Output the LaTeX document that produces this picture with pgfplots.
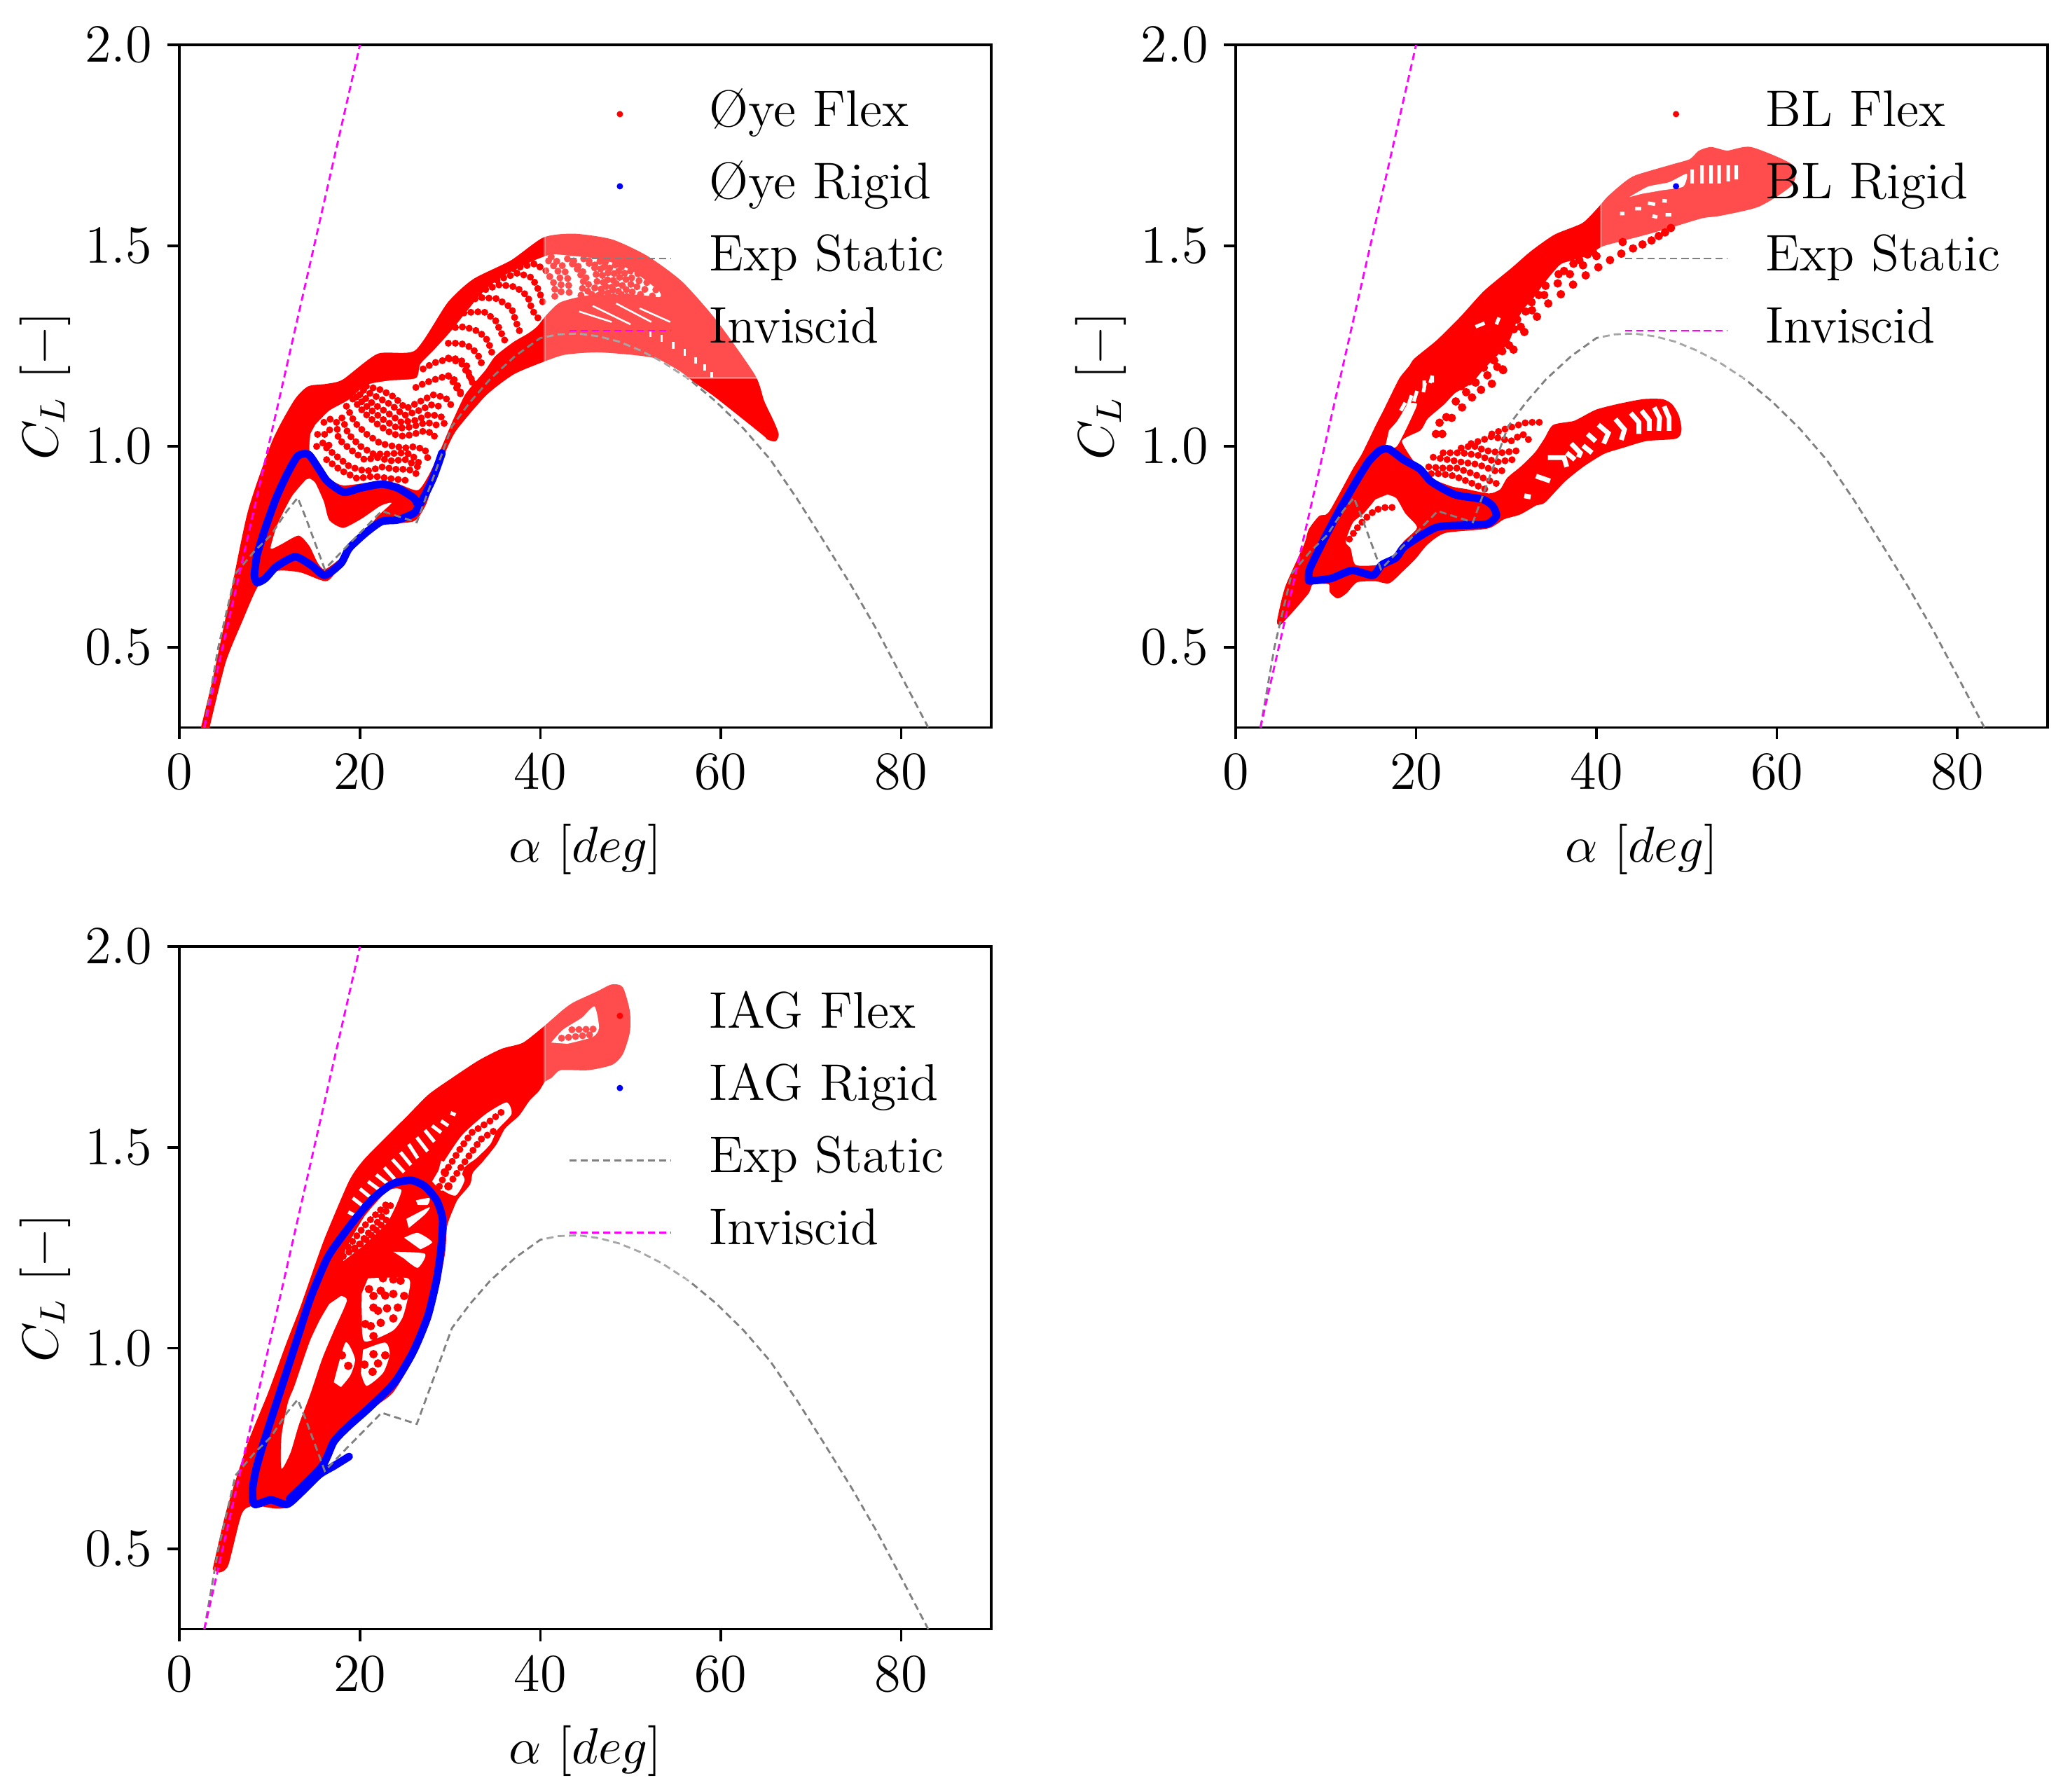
\documentclass[border=0pt]{standalone}
\usepackage{fix-cm}
\usepackage{pgfplots}
\usepackage{pgfplotstable}
\pgfplotsset{compat=1.18}
\definecolor{invcol}{rgb}{1,0,1}
\definecolor{expcol}{rgb}{0.5,0.5,0.5}
\definecolor{flexcol}{rgb}{1,0,0}
\definecolor{rigidcol}{rgb}{0,0,1}

% static polar and inviscid line, the same in all three panels
\pgfplotstableread{
2.75 0.30
4.3 0.50
6.2 0.683
8.3 0.739
10.1 0.778
11.9 0.839
13.1 0.872
14.0 0.822
16.1 0.694
18.5 0.75
22.4 0.839
26.3 0.811
28.4 0.939
30.2 1.05
32.2 1.11
34.4 1.167
37.2 1.225
40.0 1.27
42.0 1.279
44.2 1.281
46.5 1.274
48.7 1.261
51.0 1.24
53.5 1.211
56.5 1.167
59.5 1.111
62.5 1.045
65.5 0.967
68.5 0.868
71.5 0.761
74.5 0.652
77.4 0.539
80.2 0.42
83.0 0.30
}\expstatic
\pgfplotstableread{
2.75 0.30
20.0 2.00
}\inviscid
\pgfplotstableread{
40.5 1.17
86.5 1.17
86.5 1.97
40.5 1.97
}\legendframe

\pgfplotsset{
  panel/.style={
    scale only axis, width=184.5pt, height=155.1pt,
    xmin=0, xmax=90, ymin=0.3, ymax=2.0,
    xtick={0,20,40,60,80}, ytick={0.5,1,1.5,2},
    yticklabel style={/pgf/number format/fixed,/pgf/number format/fixed zerofill,/pgf/number format/precision=1},
    tick align=outside, xtick pos=bottom, ytick pos=left,
    major tick length=2.7pt,
    tick style={black,line width=0.6pt},
    axis line style={line width=0.6pt},
    tick label style={font=\fontsize{12.2}{14}\selectfont},
    label style={font=\fontsize{11.5}{14}\selectfont},
    xlabel={$\alpha\ [deg]$}, ylabel={$C_L\ [-]$},
    xlabel style={yshift=-1pt},
    ylabel style={yshift=-3.5pt},
    legend style={draw=none, fill=none, at={(0.4615,0.945)}, anchor=north west,
      font=\fontsize{11.7}{14}\selectfont, row sep=6.4pt, column sep=8.6pt,
      nodes={inner sep=0pt, text height=7.8pt, text depth=2.2pt},
      cells={anchor=west}},
    legend cell align=left,
  },
  solid/.style={fill=flexcol, draw=flexcol, line width=0.5pt, line join=round, smooth, tension=0.4, forget plot},
  hole/.style={fill=white, draw=none, smooth, tension=0.4, forget plot},
  dots/.style={flexcol, line cap=round, line width=1.6pt, dash pattern=on 0pt off 1.6pt,
    unbounded coords=jump, forget plot, no markers},
  spots/.style={only marks, mark=*, mark size=0.75pt, flexcol, forget plot},
  slits/.style={white, line width=0.8pt, unbounded coords=jump, forget plot, no markers},
  rigid/.style={rigidcol, line width=1.75pt, line join=round, line cap=round, smooth, tension=0.4, forget plot, no markers},
  exp/.style={expcol, line width=0.45pt, dash pattern=on 1.6pt off 0.95pt, forget plot, no markers},
  inv/.style={invcol, line width=0.45pt, dash pattern=on 1.6pt off 0.95pt, forget plot, no markers},
  frame/.style={fill=white, fill opacity=0.3, draw=white, draw opacity=0.3, line width=0.5pt, forget plot},
  keydot/.style={legend image code/.code={\path[draw=none,fill=none] (0,0) -- (23pt,0); \fill[#1,draw=none] (11.5pt,0) circle (0.72pt);}},
  keyline/.style={legend image code/.code={\draw[#1, line width=0.45pt, dash pattern=on 1.6pt off 0.95pt] (0,0) -- (23pt,0);}},
}
\newcommand{\shared}{
  \addplot[exp] table {\expstatic};
  \addplot[inv] table {\inviscid};
  \addplot[frame] table {\legendframe} --cycle;
}
\newcommand{\keys}[1]{
  \addlegendimage{keydot=flexcol}\addlegendentry{#1 Flex}
  \addlegendimage{keydot=rigidcol}\addlegendentry{#1 Rigid}
  \addlegendimage{keyline=expcol}\addlegendentry{Exp Static}
  \addlegendimage{keyline=invcol}\addlegendentry{Inviscid}
}

\begin{document}
\begin{tikzpicture}
\useasboundingbox (-40.8pt,-241.8pt) rectangle (429.6pt,165.3pt);

% ------ Oye
\begin{axis}[panel, at={(0pt,0pt)}]
\addplot[solid] coordinates {(2.5,.30)(3.8,.421)(5.6,.613)(7.7,.838)(10.4,1.013)(12.8,1.113)(14.3,1.147)(16.3,1.153)(18.15,1.164)(22.0,1.228)(26.2,1.237)(29.8,1.356)(32.6,1.414)(36.8,1.461)(40.4,1.518)(43.75,1.527)(47.9,1.513)(51.8,1.472)(55.65,1.408)(59.5,1.310)(63.7,1.176)(64.7,1.112)(65.8,1.06)(66.3,1.03)(66,1.015)(65.2,1.02)(64.7,1.031)(59.5,1.124)(57,1.164)(55.65,1.188)(53.1,1.22)(50.5,1.23)(46.3,1.237)(42.7,1.231)(40.4,1.214)(37,1.182)(33.9,1.129)(30.6,1.042)(29.3,.984)(28,.909)(27.2,.856)(25.9,.816)(22,.804)(18.9,.74)(17.4,.694)(16.2,.667)(13.4,.689)(10.7,.692)(8.6,.653)(6.8,.563)(5,.463)(3.2,.30)} --cycle;
\addplot[hole] coordinates {(15.05,1.054)(16.6,1.089)(18.67,1.115)(20.74,1.153)(23.3,1.164)(26.2,1.170)(26.7,1.205)(28.2,1.240)(30.05,1.286)(31.9,1.338)(33.4,1.379)(34.7,1.405)(36.5,1.432)(39.1,1.461)(41.2,1.478)(43.2,1.475)(45.8,1.469)(48.4,1.455)(50.2,1.437)(52.0,1.408)(53.2,1.385)(53.2,1.372)(50.5,1.378)(45.3,1.376)(42.2,1.359)(40.65,1.327)(39.6,1.298)(38.6,1.281)(37.0,1.260)(35.0,1.225)(33.9,1.190)(32.6,1.156)(31.6,1.127)(30.3,1.065)(29.0,.996)(27.7,.932)(26.4,.891)(24.1,.908)(22.3,.914)(18.15,.903)(16.35,.926)(15.05,.972)(14.4,.990)(14.5,1.031)} --cycle;
\addplot[hole] coordinates {(14.0,.917)(12.5,.877)(11.3,.827)(10.7,.796)(10.1,.746)(11.17,.755)(13.2,.778)(14.4,.752)(15.3,.711)(16.1,.694)(17.9,.723)(18.9,.752)(20.5,.787)(22.0,.827)(23.5,.859)(22.3,.852)(20.2,.820)(18.15,.797)(16.6,.816)(16.0,.862)(15.05,.909)(14.4,.920)} --cycle;
\addplot[slits, line width=0.6pt] table {
59.0 1.172
59.0 1.186
nan nan
58.2 1.188
58.2 1.204
nan nan
57.2 1.206
57.2 1.222
nan nan
56.0 1.225
56.0 1.243
nan nan
54.75 1.243
54.75 1.261
nan nan
53.45 1.260
53.45 1.278
nan nan
52.2 1.272
52.2 1.290
};
\addplot[slits, line width=0.4pt] table {
44.3 1.336
47.9 1.310
nan nan
45.8 1.350
50.0 1.304
nan nan
48.4 1.356
52.3 1.31
nan nan
51.0 1.344
54.4 1.31
};
\addplot[dots] table {
29.8 1.176
30.6 1.164
31.0 1.141
31.5 1.121
nan nan
29.8 1.220
31.1 1.217
31.9 1.199
32.1 1.176
32.8 1.153
nan nan
29.8 1.257
31.1 1.257
32.4 1.246
33.2 1.223
33.7 1.194
nan nan
29.8 1.295
31.6 1.298
33.2 1.286
34.2 1.263
34.7 1.228
nan nan
30.05 1.321
31.6 1.333
33.7 1.336
35.0 1.315
35.7 1.281
36.3 1.252
nan nan
31.3 1.356
33.2 1.371
35.2 1.368
36.8 1.345
37.3 1.310
37.8 1.281
nan nan
33.2 1.385
35.5 1.403
37.3 1.397
38.6 1.374
39.1 1.339
39.9 1.315
nan nan
35.2 1.414
37.5 1.432
39.1 1.420
39.9 1.385
40.4 1.350
nan nan
37.0 1.443
39.4 1.455
40.65 1.437
41.6 1.403
41.6 1.368
nan nan
41.2 1.472
42.5 1.449
43.1 1.414
43.2 1.379
nan nan
40.9 1.462
41.9 1.44
42.3 1.41
42.3 1.375
nan nan
43.0 1.467
44.3 1.437
44.8 1.408
44.5 1.376
nan nan
43.7 1.462
44.9 1.43
45.4 1.40
45.1 1.372
nan nan
44.8 1.467
46.1 1.443
46.3 1.408
45.6 1.374
nan nan
45.4 1.462
46.8 1.44
47.0 1.405
46.3 1.37
nan nan
46.6 1.461
47.5 1.432
47.4 1.403
46.3 1.368
nan nan
47.2 1.458
48.2 1.43
48.0 1.40
46.9 1.362
nan nan
48.3 1.452
48.9 1.426
48.1 1.391
46.9 1.362
nan nan
49.0 1.447
49.6 1.42
48.8 1.39
47.6 1.36
nan nan
50.0 1.437
50.2 1.408
49.2 1.382
47.9 1.362
nan nan
50.8 1.43
51.0 1.405
50.0 1.38
48.7 1.36
nan nan
51.8 1.408
51.5 1.385
50.2 1.365
nan nan
52.8 1.39
52.3 1.37
51.3 1.36
nan nan
27.0 1.193
28.2 1.208
30.05 1.219
31.3 1.205
32.1 1.176
32.6 1.153
nan nan
26.2 1.147
27.2 1.158
28.75 1.170
29.8 1.176
30.4 1.158
31.0 1.135
31.6 1.118
nan nan
20.7 1.150
22.3 1.141
23.8 1.123
25.1 1.094
26.4 1.109
28.2 1.129
29.5 1.121
30.2 1.100
nan nan
20.4 1.14
21.9 1.123
23.5 1.103
24.9 1.077
26.3 1.087
28.0 1.104
29.3 1.097
nan nan
20.0 1.129
21.5 1.106
23.1 1.083
24.6 1.060
26.2 1.065
27.7 1.080
29.0 1.074
29.4 1.054
nan nan
19.6 1.123
21.0 1.095
22.5 1.068
24.2 1.045
25.6 1.048
27.4 1.06
28.7 1.052
nan nan
19.2 1.118
20.5 1.083
22.0 1.054
23.6 1.031
24.9 1.025
26.0 1.031
27.2 1.039
28.2 1.031
28.4 1.010
nan nan
18.5 1.100
19.4 1.060
20.7 1.031
22.3 1.007
23.6 1.001
24.9 .996
25.9 .999
27.2 .993
27.5 .972
nan nan
18.0 1.071
18.7 1.031
20.0 1.001
21.5 .981
23.1 .981
24.4 .984
25.65 .981
26.7 .955
nan nan
17.4 1.060
17.6 1.019
18.9 .993
20.5 .967
22.0 .972
23.3 .964
25.1 .967
26.4 .949
nan nan
16.3 .996
17.6 .972
18.9 .949
20.7 .938
22.5 .949
23.8 .943
25.4 .943
26.7 .926
nan nan
16.3 .967
17.9 .940
19.7 .920
21.5 .926
23.3 .920
25.65 .914
nan nan
15.3 1.03
16.2 1.03
16.8 1.045
nan nan
15.2 1.0
16.0 1.01
16.8 1.0
nan nan
16.0 1.06
16.9 1.07
};
\addplot[rigid] coordinates {(29.1,.984)(28.1,.921)(26.6,.855)(26.0,.871)(24.2,.896)(22.4,.906)(20.0,.896)(18.2,.886)(16.4,.913)(15.5,.942)(14.3,.980)(13.1,.976)(11.9,.930)(10.7,.871)(9.5,.796)(8.6,.730)(8.3,.679)(8.6,.661)(9.5,.671)(10.7,.700)(12.8,.725)(14.6,.704)(16.1,.679)(17.9,.709)(18.8,.746)(20.6,.784)(22.4,.813)(24.2,.817)(26.0,.834)(26.6,.855)};
\shared
\keys{\O ye}
\end{axis}

% ------ BL
\begin{axis}[panel, at={(240pt,0pt)}]
\addplot[solid] coordinates {(5.0,.559)(4.7,.564)(5.6,.649)(7.7,.755)(8.2,.792)(9.3,.824)(10.0,.827)(10.55,.839)(11.85,.891)(13.1,.943)(14.05,.978)(14.95,1.019)(15.7,1.054)(16.5,1.089)(17.5,1.135)(18.3,1.170)(19.35,1.199)(19.9,1.217)(22.4,1.263)(25.0,1.321)(27.6,1.385)(30.7,1.443)(32.8,1.484)(35.4,1.525)(38.5,1.554)(40.3,1.594)(41.3,1.620)(43.1,1.655)(44.4,1.673)(48.3,1.699)(50.4,1.713)(51.4,1.734)(52.7,1.743)(54.5,1.734)(57.1,1.743)(61.6,1.70)(61.6,1.653)(58.0,1.60)(53.7,1.577)(51.7,1.571)(48.3,1.548)(45.5,1.530)(42.6,1.513)(40.55,1.5)(39.0,1.478)(37.4,1.467)(35.9,1.455)(34.3,1.414)(32.8,1.368)(31.8,1.344)(31.0,1.310)(30.2,1.263)(28.9,1.228)(27.4,1.194)(26.05,1.159)(24.25,1.135)(23.0,1.106)(21.2,1.071)(20.4,1.042)(18.3,1.013)(20.4,.938)(21.9,.915)(24.0,.897)(25.55,.891)(28.1,.880)(29.4,.891)(30.2,.920)(31.75,.949)(33.3,.984)(34.35,1.019)(35.25,1.051)(37.4,1.060)(38.2,1.068)(40.0,1.089)(42.4,1.103)(45.2,1.115)(47.3,1.115)(48.3,1.103)(49.0,1.077)(49.3,1.042)(48.8,1.022)(45.5,1.016)(42.9,.999)(40.8,.984)(38.5,.952)(36.4,.914)(34.2,.862)(33.3,.856)(31.5,.833)(29.7,.821)(27.9,.798)(23.2,.787)(21.2,.758)(19.9,.723)(18.6,.694)(17.0,.662)(15.5,.667)(13.4,.664)(12.2,.636)(11.3,.624)(10.55,.638)(10.4,.659)(8.5,.659)(8.0,.636)(6.5,.596)} --cycle;
\addplot[hole] coordinates {(16.5,.991)(17.8,.999)(18.6,1.03)(19.6,1.077)(20.1,1.106)(19.1,1.106)(18.3,1.077)(17.8,1.06)(17.0,1.04)} --cycle;
\addplot[hole] coordinates {(16.8,.880)(17.8,.871)(18.8,.833)(20.1,.798)(18.6,.763)(17.3,.723)(15.7,.705)(13.3,.705)(12.75,.746)(12.2,.763)(13.0,.810)(14.2,.833)(15.5,.868)} --cycle;
\addplot[hole] coordinates {(43.65,1.621)(45.7,1.647)(48.05,1.658)(50.0,1.679)(49.6,1.647)(47.3,1.638)(45.0,1.629)} --cycle;
\addplot[slits, line width=1.1pt] table {
47.5 1.100
48.05 1.071
48.05 1.039
nan nan
46.4 1.097
47.0 1.071
46.9 1.039
nan nan
45.0 1.089
45.85 1.065
45.85 1.039
nan nan
43.8 1.083
44.7 1.060
44.7 1.031
nan nan
42.1 1.068
43.1 1.042
42.75 1.016
nan nan
40.2 1.054
41.3 1.033
40.8 1.007
nan nan
39.0 1.031
39.9 1.013
nan nan
37.2 1.007
38.2 .984
38.0 .973
nan nan
34.6 .972
36.4 .972
36.7 .949
nan nan
33.3 .926
34.85 .914
nan nan
36.7 .984
37.6 .967
nan nan
38.5 1.002
39.5 .984
nan nan
32.0 .877
32.7 .874
};
\addplot[slits] table {
50.6 1.655
50.6 1.69
nan nan
51.7 1.655
51.7 1.70
nan nan
52.7 1.655
52.7 1.70
nan nan
53.6 1.655
53.6 1.70
nan nan
54.6 1.66
54.6 1.70
nan nan
55.5 1.665
55.5 1.70
nan nan
21.8 1.176
21.55 1.158
nan nan
21.0 1.158
20.8 1.135
nan nan
20.1 1.138
19.75 1.112
nan nan
19.5 1.127
19.1 1.100
nan nan
18.8 1.109
18.3 1.089
nan nan
29.2 1.321
28.9 1.304
nan nan
27.6 1.307
26.6 1.298
nan nan
20.9 1.164
20.9 1.141
nan nan
21.8 1.176
21.8 1.159
nan nan
42.6 1.580
43.1 1.580
nan nan
44.3 1.592
44.95 1.592
nan nan
46.2 1.574
46.75 1.571
nan nan
47.65 1.577
48.3 1.577
nan nan
45.7 1.606
46.5 1.603
nan nan
47.3 1.612
47.8 1.611
};
\addplot[dots] table {
20.9 .932
22.7 .932
24.3 .926
26.1 .909
27.9 .891
nan nan
21.4 .949
23.0 .946
24.5 .946
26.3 .932
28.1 .915
29.4 .903
nan nan
21.9 .973
23.5 .967
25.0 .961
26.85 .955
28.9 .938
30.2 .941
nan nan
23.0 .984
25.0 .984
26.85 .978
28.9 .961
30.7 .967
nan nan
25.0 .996
26.3 1.002
27.6 .990
29.4 .984
31.5 .990
nan nan
26.1 1.007
27.4 1.016
28.4 1.025
30.5 1.013
31.8 1.031
32.8 1.010
nan nan
28.4 1.031
29.7 1.042
31.0 1.051
32.3 1.060
33.7 1.060
nan nan
12.6 .769
13.4 .795
14.3 .819
15.5 .842
16.6 .848
17.4 .848
};
\addplot[spots] coordinates {(41.5,1.464)(42.75,1.480)(44.05,1.493)(45.1,1.503)(46.1,1.513)(46.9,1.524)(47.6,1.533)(48.25,1.544)(40.2,1.446)(38.8,1.426)(37.4,1.403)(36.05,1.379)(34.65,1.356)(33.4,1.323)(32.0,1.285)(30.8,1.241)(29.6,1.192)(28.4,1.156)(27.2,1.141)(37.05,1.429)(35.7,1.406)(34.2,1.377)(32.85,1.339)(31.6,1.298)(30.3,1.252)(29.0,1.198)(27.9,1.177)(26.6,1.159)(38.5,1.451)(40.0,1.474)(42.9,1.509)(29.65,1.190)(26.2,1.122)(25.1,1.097)(23.95,1.071)(22.9,1.031)(22.2,1.031)(22.6,1.059)(25.55,1.135)(24.4,1.112)(23.35,1.073)(32.8,1.359)(32.15,1.336)(31.2,1.316)(30.85,1.292)(29.55,1.237)(28.65,1.214)(27.5,1.196)(26.3,1.176)(25.9,1.162)(25.0,1.150)(35.8,1.429)(36.4,1.437)(34.35,1.400)(33.6,1.377)(38.1,1.464)(37.45,1.455)(39.0,1.478)(39.6,1.485)};
\addplot[rigid] coordinates {(8.2,.665)(10.55,.671)(12.9,.691)(15.2,.679)(16.2,.705)(17.8,.723)(18.8,.752)(22.2,.798)(25.55,.804)(27.9,.807)(28.9,.827)(28.5,.851)(27.4,.868)(24.3,.880)(21.7,.912)(20.4,.944)(18.6,.967)(17.0,.993)(16.0,.990)(14.7,.961)(13.1,.903)(11.3,.833)(9.8,.769)(8.2,.694)(8.1,.665)};
\shared
\keys{BL}
\end{axis}

% ------ IAG
\begin{axis}[panel, at={(0pt,-204.9pt)}]
\addplot[solid] coordinates {(3.8,.45)(5.3,.594)(7.7,.764)(9.9,.886)(12.0,1.014)(13.5,1.101)(15.3,1.217)(16.35,1.281)(18.9,1.415)(20.5,1.467)(23.3,1.531)(25.4,1.578)(27.7,1.630)(30.3,1.671)(33.2,1.714)(35.75,1.743)(38.1,1.758)(40.4,1.798)(42.5,1.839)(43.75,1.859)(46.35,1.886)(47.9,1.903)(49.05,1.897)(49.8,1.839)(49.8,1.787)(49.05,1.734)(47.9,1.708)(45.3,1.695)(42.2,1.695)(41.2,1.676)(40.4,1.665)(39.75,1.642)(38.7,1.618)(37.55,1.581)(36.0,1.549)(35.0,1.508)(33.55,1.467)(32.4,1.438)(32.1,1.409)(30.8,1.374)(30.3,1.351)(29.55,1.305)(29.3,1.235)(28.25,1.118)(26.4,1.002)(23.6,.892)(20.5,.840)(17.9,.781)(12.2,.611)(8.3,.611)(6.8,.589)(5.3,.461)(4.4,.444)} --cycle;
\addplot[hole] coordinates {(17.9,1.13)(18.55,1.118)(17.1,1.043)(15.8,.973)(14.5,.886)(13.25,.811)(12.3,.74)(11.3,.70)(11.3,.78)(12.0,.863)(12.7,.903)(13.5,.956)(14.5,1.020)(15.6,1.072)(16.6,1.11)} --cycle;
\addplot[hole] coordinates {(20.9,1.174)(25.3,1.174)(25.4,1.136)(24.75,1.078)(23.6,1.043)(20.5,1.017)(20.2,1.089)(20.2,1.136)} --cycle;
\addplot[hole] coordinates {(20.35,.996)(22.8,1.014)(23.3,.985)(22.55,.938)(20.75,.906)(20.1,.938)} --cycle;
\addplot[hole] coordinates {(17.1,.915)(18.4,1.014)(19.45,.973)(18.95,.933)(17.9,.903)} --cycle;
\addplot[hole] coordinates {(23.7,1.240)(27.2,1.235)(26.4,1.200)(24.9,1.223)} --cycle;
\addplot[hole] coordinates {(24.9,1.275)(26.4,1.287)(28.0,1.264)(26.7,1.246)} --cycle;
\addplot[hole] coordinates {(25.15,1.322)(27.7,1.351)(27.2,1.333)(25.4,1.299)} --cycle;
\addplot[hole] coordinates {(26.2,1.368)(27.7,1.374)(27.5,1.357)(26.4,1.357)} --cycle;
\addplot[hole] coordinates {(29.0,1.467)(30.6,1.450)(31.6,1.420)(30.6,1.380)(29.0,1.397)(28.6,1.432)} --cycle;
\addplot[hole] coordinates {(18.4,1.246)(20.5,1.328)(23.1,1.392)(24.6,1.392)(23.1,1.316)(20.5,1.258)(18.15,1.217)} --cycle;
\addplot[hole] coordinates {(28.0,1.415)(29.55,1.473)(31.35,1.531)(33.95,1.583)(36.25,1.612)(36.8,1.583)(35.2,1.543)(34.45,1.508)(32.9,1.473)(31.6,1.450)(30.8,1.403)(29.0,1.392)} --cycle;
\addplot[hole] coordinates {(41.2,1.761)(42.5,1.793)(44.55,1.822)(46.0,1.851)(46.5,1.798)(45.8,1.775)(43.0,1.758)} --cycle;
\addplot[slits] table {
30.05 1.586
30.6 1.581
nan nan
29.0 1.566
29.8 1.554
nan nan
28.0 1.554
29.0 1.537
nan nan
27.2 1.543
28.25 1.514
nan nan
26.3 1.525
27.5 1.490
nan nan
25.4 1.508
26.4 1.473
nan nan
24.5 1.488
25.65 1.456
nan nan
23.6 1.470
24.9 1.438
nan nan
22.7 1.450
23.85 1.421
nan nan
21.8 1.432
23.1 1.409
nan nan
20.9 1.415
22.3 1.392
nan nan
20.0 1.397
21.25 1.374
nan nan
19.2 1.374
20.5 1.351
nan nan
18.7 1.339
19.7 1.328
};
\addplot[dots] table {
18.7 1.252
20.7 1.310
23.1 1.362
nan nan
19.45 1.246
21.8 1.310
23.85 1.368
nan nan
18.15 1.229
21.0 1.275
23.3 1.328
nan nan
28.8 1.403
29.8 1.450
31.1 1.496
32.4 1.537
34.45 1.566
35.75 1.589
nan nan
30.3 1.421
31.9 1.473
33.4 1.520
35.0 1.543
nan nan
42.35 1.772
45.8 1.781
nan nan
43.5 1.793
46.35 1.795
};
\addplot[spots] coordinates {(22.55,1.174)(23.7,1.171)(24.5,1.168)(21.0,1.147)(22.3,1.143)(23.7,1.135)(24.9,1.130)(21.5,1.130)(22.8,1.131)(21.5,1.101)(23.0,1.099)(24.2,1.101)(22.0,1.093)(23.7,1.074)(22.3,1.063)(20.6,1.060)(21.2,1.055)(21.5,1.030)(21.5,.985)(20.5,.959)(21.4,.941)(22.0,.962)(22.8,.982)(18.7,.956)(18.0,.982)(29.4,1.438)(29.8,1.403)};
\addplot[rigid] coordinates {(18.8,.73)(17.0,.705)(15.5,.685)(13.4,.639)(11.9,.611)(10.1,.622)(8.3,.611)(8.1,.65)(8.5,.70)(9.4,.77)(11.4,.909)(13.0,1.02)(14.5,1.124)(16.35,1.223)(17.9,1.275)(19.7,1.328)(21.5,1.374)(23.6,1.409)(25.65,1.418)(27.2,1.403)(28.5,1.368)(29.15,1.322)(29.0,1.252)(28.5,1.171)(27.5,1.078)(25.9,.991)(23.85,.915)(21.0,.851)(18.7,.805)(17.1,.767)(15.8,.706)(12.2,.625)};
\shared
\keys{IAG}
\end{axis}
\end{tikzpicture}
\end{document}
